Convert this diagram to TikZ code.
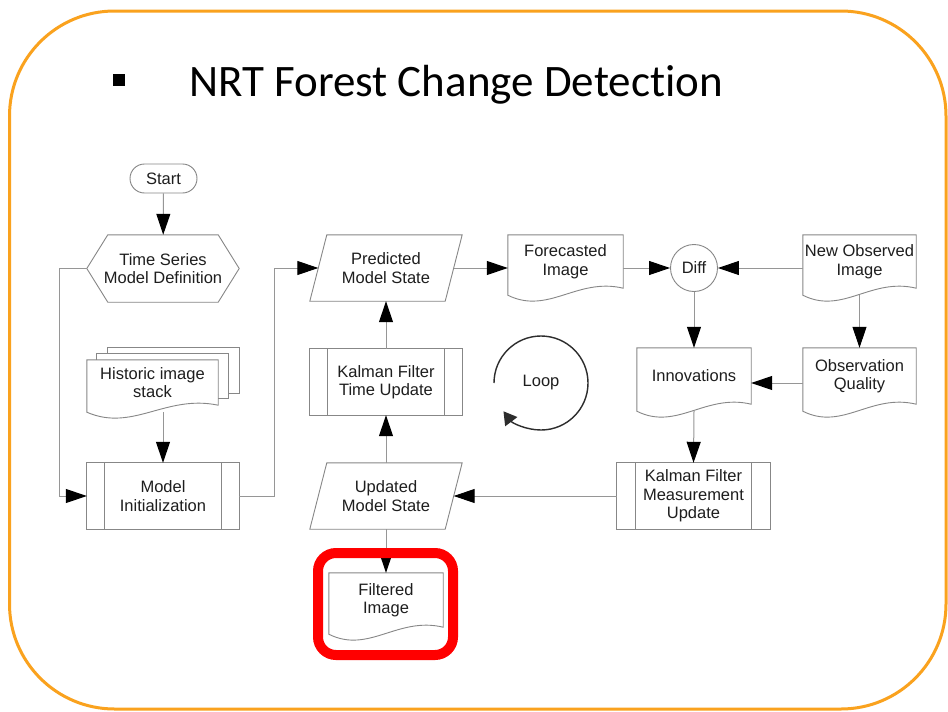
\documentclass[tikz,border=0pt]{standalone}
\usepackage{fontspec}
\setmainfont{Liberation Sans}
\newfontfamily\titlefont[Ligatures={NoCommon,NoRare,NoContextual}]{Carlito}
\usetikzlibrary{arrows.meta,calc,shapes.misc}

\definecolor{frameorange}{RGB}{250,162,30}
\definecolor{shapegray}{RGB}{135,135,135}
\definecolor{linegray}{RGB}{150,150,150}
\definecolor{txt}{RGB}{30,30,30}
\definecolor{loopcol}{RGB}{45,45,45}

\newcommand\docwave[1]{%
  \draw[shp] ($(#1.south west)+(0,7)$) -- (#1.north west) -- (#1.north east) -- (#1.south east)
    .. controls ($(#1.south west)!0.6!(#1.south east)+(0,-11)$) and ($(#1.south west)!0.35!(#1.south east)+(0,27)$) .. ($(#1.south west)+(0,7)$) -- cycle;}
\newcommand\procstrips[2]{%
  \draw[shp] (#1.north west) rectangle (#1.south east);
  \draw[shp] ($(#1.north west)+(#2,0)$) -- ($(#1.south west)+(#2,0)$);
  \draw[shp] ($(#1.north east)+(-#2,0)$) -- ($(#1.south east)+(-#2,0)$);}
\newcommand\parashape[1]{%
  \draw[shp] ($(#1.north west)+(8.5,0)$) -- ($(#1.north east)+(8.5,0)$) -- ($(#1.south east)+(-8.5,0)$) -- ($(#1.south west)+(-8.5,0)$) -- cycle;}
\newcommand\hexshape[1]{%
  \draw[shp] (#1.west) -- ($(#1.north west)+(21,0)$) -- ($(#1.north east)+(-21,0)$) -- (#1.east) -- ($(#1.south east)+(-21,0)$) -- ($(#1.south west)+(21,0)$) -- cycle;}

\tikzset{
  shp/.style={draw=shapegray, line width=0.9pt},
  box/.style={inner sep=0pt, align=center, text=txt, font=\fontsize{16.5}{18.5}\selectfont},
  arr/.style={draw=linegray, line width=1pt, -{Triangle[length=21pt,width=14pt,color=black]}},
}

\begin{document}
\begin{tikzpicture}[x=1pt,y=-1pt]
\useasboundingbox (0,0) rectangle (948,712);
\fill[white] (0,0) rectangle (948,712);
\draw[frameorange, line width=3pt, rounded corners=105pt] (9.5,11) rectangle (946,709);

% title
\node (bullet) [fill=black, minimum size=12pt, inner sep=0pt] at (118.5,80) {};
\node (title) [anchor=base west, inner sep=0pt, font=\titlefont\fontsize{45}{54}\selectfont] at (189,96) {NRT Forest Change Detection};

% nodes
\node (start) [box, rounded rectangle, draw=shapegray, line width=0.9pt, minimum width=67pt, minimum height=29pt] at (163.5,178.5) {Start};
\node (tsm) [box, minimum width=152pt, minimum height=67pt] at (163,268.5) {Time Series\\Model Definition};
\node (hist) [box, minimum width=131pt, minimum height=45pt] at (152.5,382.5) {Historic image\\stack};
\node (minit) [box, minimum width=152pt, minimum height=66pt] at (163,496) {Model\\Initialization};
\node (pred) [box, minimum width=135pt, minimum height=66pt] at (386,268) {Predicted\\Model State};
\node (ktu) [box, minimum width=152pt, minimum height=66pt] at (386,382) {Kalman Filter\\Time Update};
\node (upd) [box, minimum width=135pt, minimum height=66pt] at (386,496) {Updated\\Model State};
\node (filt) [box, minimum width=114pt, minimum height=54pt] at (386,600) {Filtered\\Image};
\node (fore) [box, minimum width=115pt, minimum height=53pt] at (565.5,261.5) {Forecasted\\Image};
\node (diff) [box, circle, draw=shapegray, line width=0.9pt, minimum size=47pt] at (694,268) {Diff};
\node (newobs) [box, minimum width=113pt, minimum height=53pt] at (859.5,261.5) {New Observed\\Image};
\node (innov) [box, minimum width=114pt, minimum height=56pt] at (694,376) {Innovations};
\node (obsq) [box, minimum width=113pt, minimum height=56pt] at (859.5,376) {Observation\\Quality};
\node (kfm) [box, minimum width=153pt, minimum height=66pt] at (693.5,496) {Kalman Filter\\Measurement\\Update};
\node (loop) [box] at (541,383) {Loop};

% shapes
\hexshape{tsm}
\docwave{hist}
\draw[shp] ($(hist.north west)+(10,0)$) -- ($(hist.north west)+(10,-6)$) -- ($(hist.north east)+(10,-6)$) -- ($(hist.south east)+(10,-7)$) -- ($(hist.south east)+(0,-7)$);
\draw[shp] ($(hist.north west)+(21,-6)$) -- ($(hist.north west)+(21,-12)$) -- ($(hist.north east)+(21,-12)$) -- ($(hist.south east)+(21,-12)$) -- ($(hist.south east)+(10,-12)$);
\procstrips{minit}{17.5}
\parashape{pred}
\procstrips{ktu}{18}
\parashape{upd}
\docwave{filt}
\docwave{fore}
\docwave{newobs}
\docwave{innov}
\docwave{obsq}
\procstrips{kfm}{18.5}

% connectors
\draw[arr] (start) -- (tsm);
\draw[arr] (tsm.west) -- ++(-27,0) |- (minit.west);
\draw[arr] ($(hist.south -| minit.north)+(0,7)$) -- (minit.north);
\draw[arr] (minit.east) -- ++(35,0) |- (pred.west);
\draw[arr] (ktu) -- (pred);
\draw[arr] (upd) -- (ktu);
\draw[arr] (pred.east) -- (pred.east -| fore.west);
\draw[arr] (diff.west -| fore.east) -- (diff.west);
\draw[arr] (diff.east -| newobs.west) -- (diff.east);
\draw[arr] (diff) -- (innov);
\draw[arr] ($(newobs.south)+(0,7)$) -- (obsq.north);
\coordinate (oqa) at ($(obsq.west)+(0,7)$);
\draw[arr] (oqa) -- (oqa -| innov.east);
\draw[arr] ($(innov.south)+(0,7)$) -- (kfm.north);
\draw[arr] (kfm) -- (upd);
\draw[arr] (upd) -- (filt);

% loop
\draw[loopcol, line width=1.4pt, -{Triangle[length=13pt,width=15pt]}] (loop.center) ++(180:47) arc[start angle=180, end angle=503, radius=47];

% highlight
\node (hl) [draw=red, line width=10pt, rounded corners=18pt, minimum width=135pt, minimum height=102pt, inner sep=0pt] at (385.5,604) {};
\end{tikzpicture}
\end{document}
